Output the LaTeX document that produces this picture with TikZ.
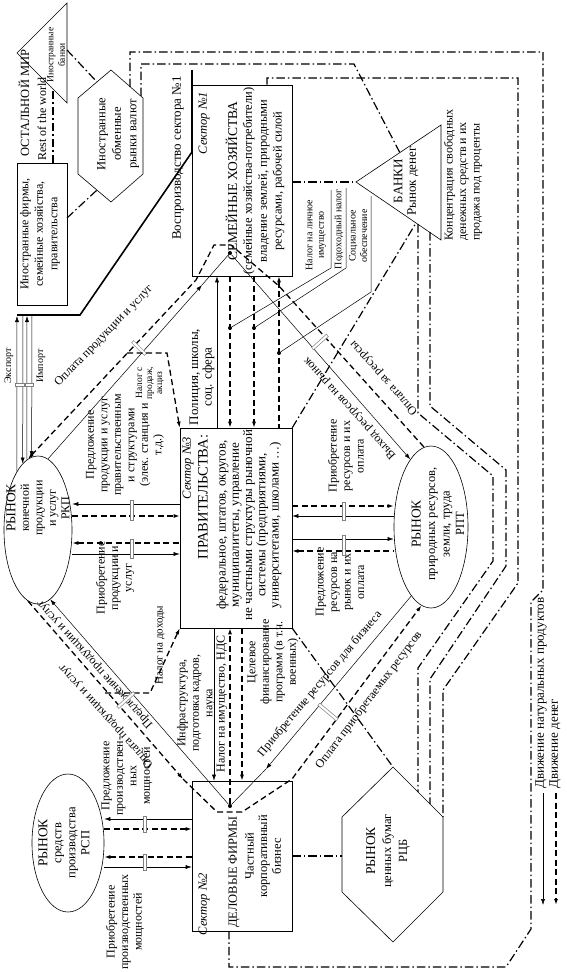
\documentclass[tikz,border=0pt]{standalone}
\usepackage{fontspec}
\setmainfont{Liberation Serif}
\usetikzlibrary{arrows.meta,shapes.geometric}
\begin{document}
\begin{tikzpicture}[x=1pt,y=-1pt,>={Latex[length=6pt,width=4pt]},
  goods/.style={line width=0.5pt},
  money/.style={line width=1.3pt,dash pattern=on 6pt off 3.5pt},
  fin/.style={line width=1.2pt,dash pattern=on 8.5pt off 3pt on 1.5pt off 3pt},
  sector/.style={draw,line width=0.6pt,inner sep=0pt},
  market/.style={draw,line width=0.6pt,ellipse,inner sep=0pt},
  lbl/.style={align=center,inner sep=0pt,font=\fontsize{12}{13.5}\selectfont},
  txt/.style={lbl,rotate=90},
  note/.style={txt,font=\fontsize{10}{11.5}\selectfont},
  brk/.style={draw=gray,fill=white,line width=0.5pt,inner sep=0pt},
  jn/.style={circle,fill,inner sep=0pt,minimum size=4pt}]
\useasboundingbox (0,0) rectangle (567,972);

% sectors and markets
\node[sector,minimum width=50pt,minimum height=142pt] (frn) at (42,234) {};
\node[sector,minimum width=100pt,minimum height=191pt] (hh) at (242,180.5) {};
\node[sector,minimum width=112pt,minimum height=200pt] (gov) at (236,528) {};
\node[sector,minimum width=100pt,minimum height=150pt] (biz) at (242,856) {};
\node[market,minimum width=68pt,minimum height=148pt] (rkp) at (38,530) {};
\node[market,minimum width=74pt,minimum height=162pt] (rpt) at (431,527) {};
\node[market,minimum width=72pt,minimum height=138pt] (rsp) at (68,843) {};
\draw[line width=0.6pt] (111,70) -- (143,98) -- (143,174) -- (111,202) -- (78,174) -- (78,98) -- cycle;
\draw[line width=0.6pt] (393,767) -- (443,817) -- (443,892) -- (393,942) -- (342,892) -- (342,817) -- cycle;
\draw[line width=0.6pt] (17,53) -- (67,3) -- (67,103) -- cycle;
\draw[line width=0.6pt] (356,182) -- (441,125) -- (441,240) -- cycle;
\draw[line width=1.6pt] (17,315) -- (80,315) -- (192,152) -- (192,70);

% texts
\node[txt,font=\fontsize{12.5}{14}\selectfont] (world) at (24,103) {ОСТАЛЬНОЙ МИР};
\node[txt,font=\fontsize{12}{14}\selectfont] (rest) at (42,119) {Rest of the world};
\node[note,font=\fontsize{9.5}{11.5}\selectfont] (fbt) at (56,55) {Иностранные\\банки};
\node[txt,font=\fontsize{12.5}{15.5}\selectfont] (fxt) at (118,134) {Иностранные\\обменные\\рынки валют};
\node[txt,font=\fontsize{12}{14.5}\selectfont] (frnt) at (40,234) {Иностранные фирмы,\\семейные хозяйства,\\правительства};
\node[txt,font=\fontsize{13}{14}\selectfont] (repr) at (178,158) {Воспроизводство сектора №1};
\node[txt,font=\itshape\fontsize{12.5}{13}\selectfont] (s1) at (204,123) {Сектор №1};
\node[txt,font=\fontsize{12.5}{14.8}\selectfont] (hht) at (255,181) {{\fontsize{13.5}{14.8}\selectfont СЕМЕЙНЫЕ ХОЗЯЙСТВА}\\(семейные хозяйства-потребители)\\владение землей, природными\\ресурсами, рабочей силой};
\node[txt,font=\itshape\fontsize{12.5}{13}\selectfont] (s3) at (188,468) {Сектор №3};
\node[txt,font=\fontsize{14.5}{15}\selectfont] (govh) at (203,497) {ПРАВИТЕЛЬСТВА:};
\node[txt,font=\fontsize{13}{13.2}\selectfont] (govt) at (249,525) {федеральное, штатов, округов,\\муниципалитеты, управление\\не частными структуры рыночной\\системы (предприятиями,\\университетами, школами …)};
\node[txt,font=\itshape\fontsize{12.5}{13}\selectfont] (s2) at (204,904) {Сектор №2};
\node[txt,font=\fontsize{12.5}{14}\selectfont] (bizh) at (234,872) {ДЕЛОВЫЕ ФИРМЫ};
\node[txt,font=\fontsize{12.5}{13.7}\selectfont] (bizt) at (263,856) {Частный\\корпоративный\\бизнес};
\node[txt,font=\fontsize{12}{13.5}\selectfont] (rkpt) at (38,508) {{\fontsize{13.5}{14}\selectfont РЫНОК}\\конечной\\продукции\\и услуг\\РКП};
\node[txt,font=\fontsize{12.5}{14.5}\selectfont] (rptt) at (438,524) {{\fontsize{13.5}{14}\selectfont РЫНОК}\\природных ресурсов,\\земли, труда\\РПТ};
\node[txt,font=\fontsize{12.5}{14}\selectfont] (rspt) at (64,843) {{\fontsize{13.5}{14}\selectfont РЫНОК}\\средств\\производства\\РСП};
\node[txt,font=\fontsize{12.5}{16}\selectfont] (rcbt) at (388,851) {{\fontsize{13.5}{14}\selectfont РЫНОК}\\ценных бумаг\\РЦБ};
\node[txt,font=\fontsize{13}{13.5}\selectfont] (bkt) at (406,181) {БАНКИ\\Рынок денег};
\node[txt,align=left,anchor=west] (bkn) at (463,241) {Концентрация свободных\\денежных средств и их\\продажа под проценты};
\node[note] (tx1) at (316,235) {Налог на личное\\имущество};
\node[note] (tx2) at (339,229) {Подоходный налог};
\node[note] (tx3) at (358,236) {Социальное\\обеспечение};
\node[txt,font=\fontsize{13}{13.5}\selectfont] (pol) at (202,377) {Полиция, школы,\\соц. сфера};
\node[note,font=\fontsize{9.5}{10}\selectfont] (nsp) at (150,383) {Налог с\\продаж,\\акциз};
\node[txt,font=\fontsize{11}{13}\selectfont] (ndh) at (160,645) {Налог на доходы};
\node[txt] (pgv) at (125,445) {Предложение\\продукции и услуг\\правительственным\\и структурами\\(элек. станция и\\т.д.)};
\node[txt] (bgv) at (115,578) {Приобретение\\продукции и\\услуг};
\node[txt] (brg) at (346,456) {Приобретение\\ресурсов и их\\оплата};
\node[txt] (prg) at (340,582) {Предложение\\ресурсов на\\рынок и их\\оплата};
\node[txt] (psp) at (127,776) {Предложение\\производствен-\\ных\\мощностей};
\node[txt] (bsp) at (125,922) {Приобретение\\производственных\\мощностей};
\node[txt] (inf) at (196,703) {Инфраструктура,\\подготовка кадров,\\наука};
\node[txt] (nim) at (222,704) {Налог на имущество, НДС};
\node[txt] (cel) at (273,662) {Целевое\\финансирование\\программ (в т.ч.\\военных)};
\node[txt,font=\fontsize{10}{11}\selectfont] (exp) at (9,366) {Экспорт};
\node[txt,font=\fontsize{10}{11}\selectfont] (imp) at (41,366) {Импорт};
\node[lbl,rotate=46] (oph) at (104,336) {Оплата продукции и услуг};
\node[lbl,rotate=132] (vyh) at (350,408) {Выход ресурсов на рынок};
\node[lbl,rotate=132] (opr) at (384,378) {Оплата за ресурсы};
\node[lbl,rotate=132] (ppb) at (95,664) {Предложение продукции и услуг};
\node[lbl,rotate=132] (opb) at (106,716) {Оплата продукции и услуг};
\node[lbl,rotate=50] (prb) at (320,684) {Приобретение ресурсов для бизнеса};
\node[lbl,rotate=53] (opp) at (369,700) {Оплата приобретаемых ресурсов};
\node[txt,anchor=west,font=\fontsize{13}{14}\selectfont] (lg1) at (541,789) {Движение натуральных продуктов};
\node[txt,anchor=west,font=\fontsize{13}{14}\selectfont] (lg2) at (555,789) {Движение денег};

% junctions
\node[jn] (hdot) at (230,253) {};
\node[jn] (bdot) at (230,806) {};
\node[jn] (d1) at (230,328) {};
\node[jn] (d2) at (254,328) {};
\node[jn] (d3) at (279,353) {};

% financial links
\draw[fin] (53,163) -- (53,89);
\draw[fin] (67,50) -- (97,82);
\draw[fin] (67,218) -- (97,190);
\draw[fin] (130,87) -- (130,52) -- (543,52) -- (543,590) -- (531,602) -- (531,929) -- (506,967) -- (229,967) -- (biz.south -| 229,0);
\draw[fin] (141,96) -- (141,64) -- (354,64) -- (400,153);
\draw[fin] (hh.north -| 267,0) -- (267,78) -- (518,78) -- (518,583) -- (443,690) -- (443,817);
\draw[fin] (hh.east |- 0,182) -- (356,182);
\draw[fin] (gov.north east) -- (416,223);
\draw[fin] (418,224) -- (418,413) -- (493,476) -- (493,561) -- (418,668) -- (418,792);
\draw[fin] (430,232) -- (430,406) -- (506,470) -- (506,566) -- (430,679) -- (430,804);
\draw[fin] (gov.south east) -- (393,767);
\draw[fin] (biz.east) -- (342,856);

% export and import
\draw[goods,->] (rkp.110) -- (17,316);
\draw[goods,<-] (rkp.103) -- (23,316);
\draw[goods,->] (rkp.99) -- (27,316);
\draw[goods,<-] (rkp.95) -- (32,316);
\node[brk,minimum width=9pt,minimum height=3pt] at (20,385) {};
\node[brk,minimum width=8pt,minimum height=3pt] at (29.5,385) {};

% households - markets
\draw[money,<-] (rkp.98) -- (196,280) -- (214,245) -- (231,245) -- (279,286) -- (rpt.95);
\draw[goods,->] (rkp.82) -- (202,285);
\draw[goods] (202,285) -- (hdot);
\draw[goods,->] (hdot) -- (rpt.107);
\node[brk,minimum width=18pt,minimum height=3pt,rotate=-45] at (139,348) {};
\node[brk,minimum width=20pt,minimum height=3pt,rotate=42] at (320,342) {};

% households - government
\draw[goods,->] (gov.north -| 217,0) -- (hh.south -| 217,0);
\draw[money,->] (hh.south -| d1) -- (gov.north -| d1);
\draw[money,->] (hh.south -| d2) -- (gov.north -| d2);
\draw[money,<-] (hh.south -| d3) -- (gov.north -| d3);
\draw[goods] (331,190) -- (331,268) -- (d1);
\draw[goods] (346,188) -- (346,268) -- (d2);
\draw[goods] (371,196) -- (371,292) -- (d3);
\draw[money,->] (127,353) -- (167,353) -- (gov.north west);

% government - markets
\draw[goods,<-] (rkp.east |- 0,504) -- (gov.west |- 0,504);
\draw[money,->] (rkp.east |- 0,516) -- (gov.west |- 0,516);
\draw[money,<-] (rkp.east |- 0,543) -- (gov.west |- 0,543);
\draw[goods,->] (rkp.east |- 0,554) -- (gov.west |- 0,554);
\node[brk,minimum width=3pt,minimum height=20pt] at (132,510) {};
\node[brk,minimum width=3pt,minimum height=19pt] at (132,548.5) {};
\draw[money,->] (gov.east |- 0,506) -- (rpt.west |- 0,506);
\draw[goods,<-] (gov.east |- 0,516) -- (rpt.west |- 0,516);
\draw[goods,->] (gov.east |- 0,539) -- (rpt.west |- 0,539);
\draw[money,<-] (gov.east |- 0,551) -- (rpt.west |- 0,551);
\node[brk,minimum width=3pt,minimum height=18pt] at (344,511) {};
\node[brk,minimum width=3pt,minimum height=20pt] at (344,545) {};

% government - business
\draw[goods,->] (gov.south -| 214,0) -- (biz.north -| 214,0);
\draw[money,->] (bdot) -- (gov.south -| bdot);
\draw[money,->] (gov.south -| 242,0) -- (biz.north -| 242,0);
\draw[money,->] (105,693) -- (150,693) -- (gov.south west);

% business - markets
\draw[goods,<-] (rkp.-80) -- (bdot);
\draw[money,->] (rkp.-98) -- (183,779);
\draw[money,->] (183,779) -- (217,812) -- (242,812) -- (292,779) -- (rpt.-97);
\draw[goods,->] (rpt.-106) -- (266,769);
\draw[goods] (266,769) -- (bdot);
\node[brk,minimum width=22pt,minimum height=3pt,rotate=42] at (126,700) {};
\node[brk,minimum width=24pt,minimum height=3pt,rotate=-40] at (328,712) {};
\draw[goods,<-] (rsp.east |- 0,819) -- (biz.west |- 0,819);
\draw[money,->] (rsp.east |- 0,829) -- (biz.west |- 0,829);
\draw[money,<-] (rsp.east |- 0,857) -- (biz.west |- 0,857);
\draw[goods,->] (rsp.east |- 0,867) -- (biz.west |- 0,867);
\node[brk,minimum width=3pt,minimum height=16pt] at (145,824) {};
\node[brk,minimum width=3pt,minimum height=16pt] at (145,862) {};

% legend
\draw[goods,->] (lg1.west) ++(2,4) -- ++(0,112);
\draw[money,->] (lg2.west) ++(1,4) -- ++(0,112);
\end{tikzpicture}
\end{document}
